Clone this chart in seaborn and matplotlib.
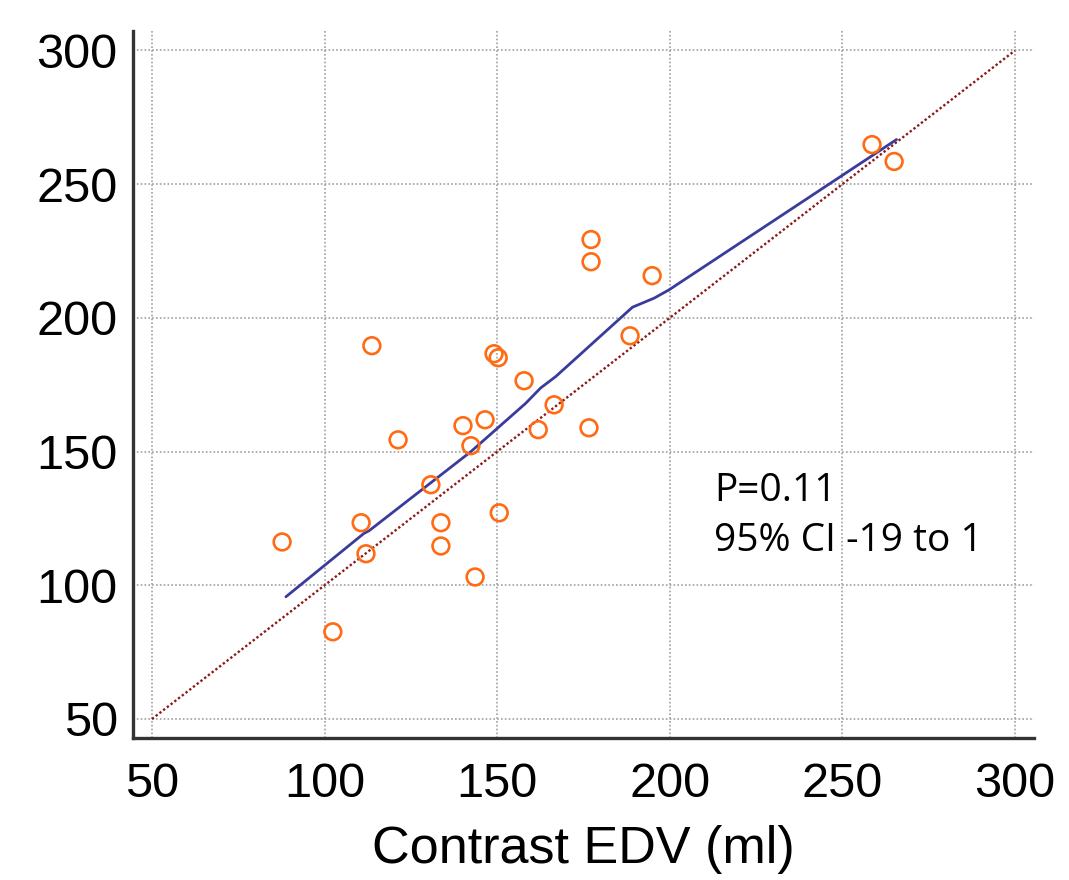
import numpy as np
import matplotlib
matplotlib.use("Agg")
import matplotlib.pyplot as plt
import seaborn as sns

# contrast vs. comparison EDV (ml)
contrast_edv = [87.7, 102.4, 110.6, 112.0, 113.7, 121.3, 130.8, 133.7, 133.7,
                140.1, 142.4, 143.6, 146.5, 149.1, 150.3, 150.6, 157.8, 161.9,
                166.5, 176.6, 177.2, 177.2, 188.5, 194.9, 258.6, 265.0]
other_edv = [116.2, 82.6, 123.4, 111.8, 189.6, 154.4, 137.6, 123.4, 114.7,
             159.7, 152.2, 103.1, 161.9, 186.6, 185.1, 127.1, 176.5, 158.2,
             167.5, 158.9, 229.3, 221.0, 193.3, 215.8, 264.8, 258.5]

# fitted curve (blue)
fit_x = [88.8, 111.4, 112.9, 142.4, 158.3, 162.6, 167.0, 189.2, 195.5, 199.8, 265.7]
fit_y = [95.7, 119.4, 120.4, 150.0, 168.1, 173.8, 178.1, 204.0, 207.4, 210.5, 266.7]

# line of identity
identity = [50, 300]

ticks = [50, 100, 150, 200, 250, 300]
stats_lines = ["P=0.11", "95% CI -19 to 1"]

sns.set_theme(style="white")
plt.rcParams['font.family'] = ['Liberation Sans', 'DejaVu Sans']

fig = plt.figure(figsize=(10.69, 8.80), dpi=100)
ax = fig.add_axes([0.1244, 0.1614, 0.8428, 0.8034])

sns.lineplot(x=identity, y=identity, ax=ax, color="#8B1A1A", linewidth=1.7,
             linestyle=(0, (1, 1)), zorder=2)
sns.lineplot(x=fit_x, y=fit_y, ax=ax, sort=False, estimator=None,
             color="#3B3B9C", linewidth=2.0, zorder=3)
sns.scatterplot(x=contrast_edv, y=other_edv, ax=ax, marker="o", s=145,
                facecolor="none", edgecolor="#FF6A13", linewidth=1.9, zorder=4)

ax.set_xlim(44.5, 305.5)
ax.set_ylim(42.9, 307.3)
ax.set_xticks(ticks)
ax.set_yticks(ticks)

ax.grid(True, color="#a0a0a0", linestyle=(0, (1, 1.3)), linewidth=1.2)
ax.set_axisbelow(True)

for side in ["top", "right"]:
    ax.spines[side].set_visible(False)
for side in ["left", "bottom"]:
    ax.spines[side].set_color("#333333")
    ax.spines[side].set_linewidth(2.4)

ax.tick_params(axis="both", direction="in", length=13, width=2.4,
               color="#333333", labelsize=35, labelcolor="black")
ax.tick_params(axis="y", pad=11)
ax.tick_params(axis="x", pad=17)

ax.set_xlabel("Contrast EDV (ml)", fontsize=37.5, labelpad=13, color="black")
ax.set_ylabel("")

ax.text(212.9, 142.5, "\n".join(stats_lines), fontsize=28, va="top", ha="left",
        linespacing=1.42, family=["Open Sans", "DejaVu Sans"], color="black")

fig.savefig("out.png", dpi=100)
